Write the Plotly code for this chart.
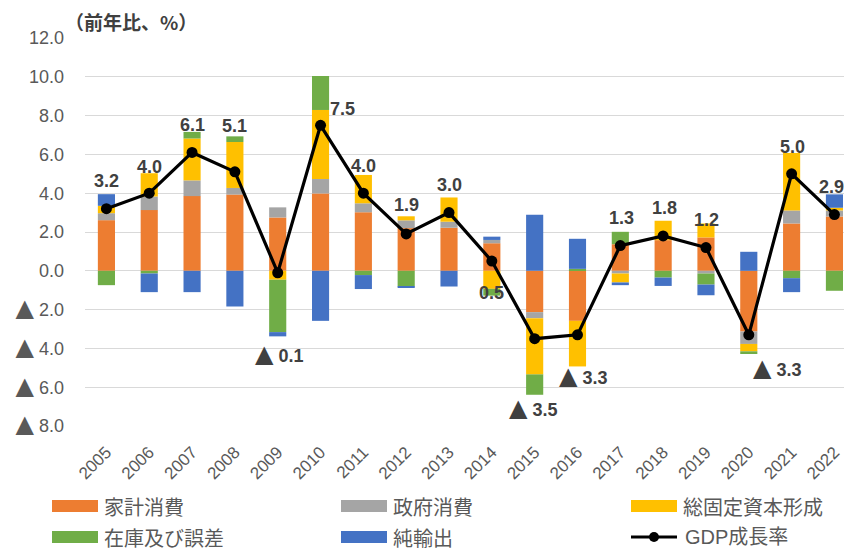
import plotly.graph_objects as go

years = [str(y) for y in range(2005, 2023)]
household = [2.61, 3.13, 3.85, 3.93, 2.75, 3.99, 3.02, 2.20, 2.22, 1.42, -2.13, -2.58, 1.37, 1.58, 1.72, -3.13, 2.44, 2.80]
government = [0.36, 0.70, 0.81, 0.34, 0.52, 0.74, 0.46, 0.40, 0.31, 0.17, -0.31, 0.00, -0.14, 0.00, -0.14, -0.64, 0.67, 0.31]
fixed_capital = [0.38, 1.20, 2.16, 2.37, -0.46, 3.56, 1.46, 0.21, 1.25, -0.93, -2.90, -2.35, -0.46, 1.00, 0.72, -0.38, 2.96, 0.14]
inventory = [-0.74, -0.14, 0.34, 0.29, -2.70, 1.75, -0.22, -0.81, 0.00, -0.35, -1.05, 0.10, 0.64, -0.35, -0.57, -0.14, -0.38, -1.03]
net_exports = [0.60, -0.96, -1.10, -1.84, -0.22, -2.58, -0.72, -0.07, -0.81, 0.17, 2.89, 1.55, -0.14, -0.43, -0.55, 0.98, -0.72, 0.69]
gdp = [3.2, 4.0, 6.1, 5.1, -0.1, 7.5, 4.0, 1.9, 3.0, 0.5, -3.5, -3.3, 1.3, 1.8, 1.2, -3.3, 5.0, 2.9]

series_names = ["家計消費", "政府消費", "総固定資本形成", "在庫及び誤差", "純輸出"]
series_values = [household, government, fixed_capital, inventory, net_exports]
series_colors = ["#ED7D31", "#A5A5A5", "#FFC000", "#70AD47", "#4472C4"]
gdp_name = "GDP成長率"

ytick_vals = [12, 10, 8, 6, 4, 2, 0, -2, -4, -6, -8]

# label offsets in px (dx, dy up)
label_offsets = [(0, 28), (0, 26), (0, 27), (0, 46), (2, -81), (22, 16), (0, 27), (0, 29), (0, 28),
                 (0, -32), (-1, -69), (6, -41), (1, 28), (1, 28), (1, 28), (29, -33), (1, 27), (-3, 28)]

# page body has an 8px margin: the figure is drawn 8px in from the top-left corner
OFF = 8
W, H = 852 - OFF, 551 - OFF
ML, MR, MT, MB = 85 - OFF, 0, 38 - OFF, 125
FONT = "Liberation Sans, Noto Sans CJK JP, sans-serif"
JFONT = "Noto Sans CJK JP, sans-serif"
TRI = '<span style="font-family:DejaVu Sans;font-size:24px">▲</span> '


def px2x(px):
    return (px - OFF - ML) / (W - ML - MR)


def py2y(py):
    return (H - MB - (py - OFF)) / (H - MT - MB)


def fmt(v):
    return (TRI + f"{abs(v):.1f}") if v < 0 else f"{v:.1f}"


fig = go.Figure()
for name, vals, col in zip(series_names, series_values, series_colors):
    fig.add_trace(go.Bar(x=years, y=vals, name=name, marker=dict(color=col, line=dict(width=0)),
                         width=0.40, showlegend=False))

fig.add_trace(go.Scatter(x=years, y=gdp, name=gdp_name, mode="lines+markers",
                         line=dict(color="black", width=3.2),
                         marker=dict(color="black", size=11), showlegend=False))

annotations = []
for i, (v, (dx, dy)) in enumerate(zip(gdp, label_offsets)):
    annotations.append(dict(x=i, y=v, xref="x", yref="y", text=f"<b>{fmt(v)}</b>", showarrow=False,
                            xshift=dx, yshift=dy, font=dict(family=FONT, size=18, color="#404040")))

annotations.append(dict(x=px2x(131), y=py2y(21), xref="paper", yref="paper", text="<b>（前年比、%）</b>",
                        showarrow=False, xanchor="center", yanchor="middle", height=22, borderpad=0,
                        font=dict(family=JFONT, size=19, color="#404040")))

# manual legend
shapes = []
legend_pos = [(52, 506), (341, 506), (631, 506), (52, 537), (341, 537)]
for (x0, yc), name, col in zip(legend_pos, series_names, series_colors):
    shapes.append(dict(type="rect", xref="paper", yref="paper", x0=px2x(x0), x1=px2x(x0 + 46),
                       y0=py2y(yc + 6), y1=py2y(yc - 6), fillcolor=col, line=dict(width=0)))
    annotations.append(dict(x=px2x(x0 + 51), y=py2y(yc), xref="paper", yref="paper", text=name,
                            showarrow=False, xanchor="left", yanchor="middle", height=22, borderpad=0,
                            font=dict(family=JFONT, size=20, color="#595959")))
shapes.append(dict(type="line", xref="paper", yref="paper", x0=px2x(631), x1=px2x(677),
                   y0=py2y(537), y1=py2y(537), line=dict(color="black", width=3)))
shapes.append(dict(type="circle", xref="paper", yref="paper", xsizemode="pixel", ysizemode="pixel",
                   xanchor=px2x(654), yanchor=py2y(537), x0=-5, x1=5, y0=-5, y1=5,
                   fillcolor="black", line=dict(width=0)))
annotations.append(dict(x=px2x(684), y=py2y(537), xref="paper", yref="paper", text=gdp_name,
                        showarrow=False, xanchor="left", yanchor="middle", height=22, borderpad=0,
                        font=dict(family=FONT, size=20, color="#595959")))

fig.update_layout(
    width=W, height=H, barmode="relative", bargap=0.6,
    margin=dict(l=ML, r=MR, t=MT, b=MB, pad=0),
    plot_bgcolor="white", paper_bgcolor="white",
    font=dict(family=FONT, color="#595959"),
    annotations=annotations, shapes=shapes,
    xaxis=dict(type="category", range=[-0.5, 17.41], tickangle=-45, showgrid=False, showline=False,
               ticks="", tickfont=dict(family=FONT, size=17, color="#595959"), ticklabelstandoff=12),
    yaxis=dict(range=[-8, 12], tickvals=ytick_vals,
               ticktext=[fmt(v) for v in ytick_vals], showgrid=True, gridcolor="#D9D9D9", gridwidth=1,
               zeroline=False, showline=False, ticks="", ticklabelstandoff=20,
               tickfont=dict(family=FONT, size=18, color="#595959")),
)

fig.write_html("out.html")
